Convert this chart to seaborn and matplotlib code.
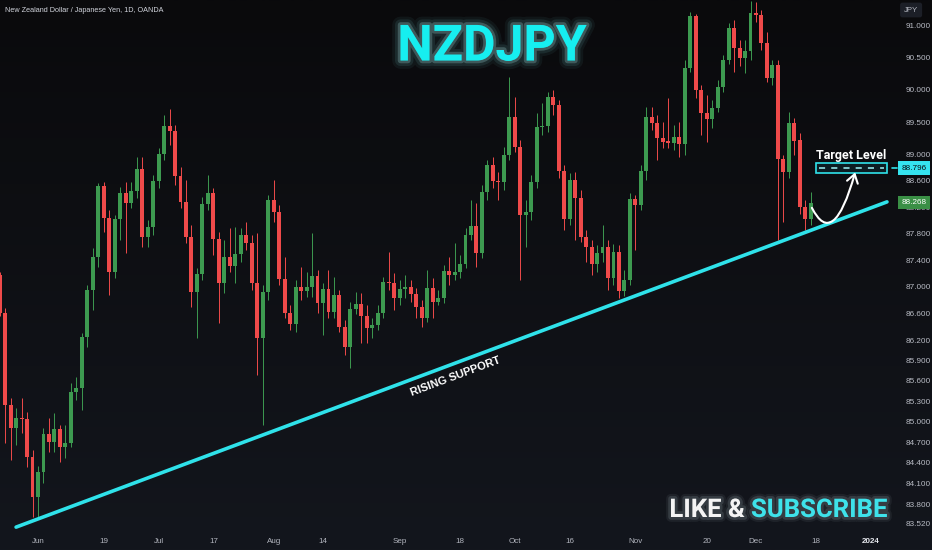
import numpy as np
import pandas as pd
import matplotlib
matplotlib.use("Agg")
import matplotlib.pyplot as plt
import matplotlib.ticker as mticker
import matplotlib.patheffects as pe
from matplotlib.patches import Rectangle, FancyArrowPatch
from matplotlib.path import Path
from matplotlib.colors import LinearSegmentedColormap
from matplotlib.transforms import blended_transform_factory
import seaborn as sns

# daily NZDJPY candles, first bar 2023-05-23, last bar 2023-12-15 (weekdays)
start_date = "2023-05-23"

opens = [
    87.17, 86.60, 85.24, 84.91, 85.05, 85.04, 84.48, 83.90, 84.26, 84.82,
    84.70, 84.89, 84.63, 84.69, 85.43, 85.49, 86.25, 86.95, 87.44, 88.52,
    88.03, 87.22, 88.02, 88.41, 88.26, 88.44, 88.78, 87.75, 87.90, 88.60,
    89.01, 89.44, 89.36, 88.67, 88.28, 87.75, 86.92, 87.19, 88.25, 88.41,
    87.72, 87.05, 87.44, 87.31, 87.49, 87.78, 87.66, 87.05, 86.23, 86.92,
    88.31, 88.12, 87.11, 86.60, 86.44, 86.99, 86.93, 86.99, 87.16, 86.75,
    86.96, 86.62, 86.87, 86.40, 86.10, 86.66, 86.74, 86.56, 86.38, 86.43,
    86.60, 87.07, 87.05, 86.83, 86.96, 86.99, 86.89, 86.69, 86.53, 86.98,
    86.77, 86.83, 87.23, 87.17, 87.22, 87.34, 87.78, 87.91, 87.50, 88.43,
    88.84, 88.60, 88.58, 88.99, 89.58, 89.12, 88.08, 88.12, 88.58, 89.43,
    89.44, 89.89, 89.76, 88.75, 88.02, 88.61, 88.34, 87.75, 87.60, 87.34,
    87.50, 87.60, 87.13, 87.52, 86.93, 87.10, 88.32, 88.23, 88.75, 89.58,
    89.49, 89.26, 89.21, 89.18, 89.27, 89.16, 90.34, 91.15, 90.00, 89.64,
    89.55, 89.72, 90.04, 90.46, 90.96, 90.65, 90.50, 90.60, 91.20, 91.17,
    90.73, 90.18, 90.39, 88.93, 88.73, 89.49, 89.22, 88.20, 88.02,
]
highs = [
    87.22, 86.68, 85.35, 85.20, 85.35, 85.14, 84.58, 84.35, 84.91, 85.05,
    85.12, 84.95, 84.95, 85.57, 85.65, 86.31, 87.02, 87.58, 88.57, 88.58,
    88.16, 88.08, 88.51, 88.58, 88.58, 88.96, 88.96, 88.00, 88.69, 89.10,
    89.61, 89.70, 89.46, 88.81, 88.61, 87.93, 87.28, 88.35, 88.69, 88.49,
    87.82, 87.70, 87.88, 87.90, 87.88, 87.97, 87.78, 87.81, 87.02, 88.38,
    88.61, 88.23, 87.44, 86.72, 87.10, 87.29, 87.22, 87.81, 87.25, 87.05,
    87.25, 87.14, 86.95, 86.50, 86.77, 86.92, 86.90, 86.72, 86.53, 86.72,
    87.14, 87.52, 87.20, 87.10, 87.17, 87.10, 86.98, 86.80, 87.25, 87.13,
    86.95, 87.32, 87.44, 87.66, 87.47, 87.88, 88.31, 88.26, 88.54, 88.92,
    88.96, 88.73, 89.12, 90.20, 89.89, 89.23, 88.31, 88.69, 89.64, 89.80,
    89.97, 90.00, 89.84, 88.84, 88.72, 88.73, 88.46, 87.85, 87.70, 87.63,
    87.93, 87.70, 87.64, 87.63, 87.25, 88.41, 88.38, 88.84, 89.73, 89.73,
    89.61, 89.50, 89.87, 89.46, 89.50, 90.46, 91.22, 91.18, 90.07, 89.92,
    89.84, 90.15, 90.54, 91.05, 91.09, 90.78, 90.78, 91.39, 91.37, 91.25,
    90.90, 90.46, 90.46, 88.99, 89.66, 89.56, 89.33, 88.31, 88.43,
]
lows = [
    86.56, 84.69, 84.44, 84.66, 84.83, 84.34, 83.61, 83.61, 84.10, 84.56,
    84.56, 84.41, 84.47, 84.63, 85.32, 85.17, 86.10, 86.65, 87.29, 87.82,
    86.87, 87.13, 87.70, 87.50, 88.19, 88.34, 87.60, 87.60, 87.78, 88.49,
    88.92, 89.15, 88.54, 88.19, 87.66, 86.69, 86.23, 87.10, 88.16, 87.47,
    86.46, 86.90, 87.22, 87.05, 87.37, 87.55, 86.95, 85.68, 84.95, 86.80,
    87.97, 87.02, 86.53, 86.35, 86.32, 86.80, 86.84, 86.84, 86.60, 86.28,
    86.53, 86.53, 86.32, 85.98, 85.79, 86.59, 86.16, 86.16, 86.23, 86.35,
    86.53, 86.95, 86.65, 86.72, 86.83, 86.77, 86.53, 86.40, 86.47, 86.53,
    86.72, 86.75, 87.02, 87.10, 87.13, 87.28, 87.70, 87.29, 87.43, 88.31,
    88.49, 88.31, 88.46, 88.92, 89.04, 87.10, 87.60, 88.00, 88.49, 89.30,
    89.35, 89.61, 88.64, 87.85, 87.93, 87.70, 87.67, 87.37, 87.17, 87.22,
    87.37, 86.95, 87.02, 86.83, 86.86, 87.02, 87.55, 88.16, 88.61, 89.38,
    88.92, 89.10, 89.10, 89.07, 88.96, 88.99, 90.28, 89.87, 89.30, 89.19,
    89.41, 89.66, 89.97, 90.40, 90.28, 90.37, 90.26, 90.46, 91.06, 90.62,
    90.12, 90.07, 87.70, 87.97, 88.64, 88.99, 88.09, 87.85, 87.93,
]
closes = [
    86.60, 85.24, 84.91, 85.05, 85.04, 84.48, 83.90, 84.26, 84.82, 84.70,
    84.89, 84.63, 84.69, 85.43, 85.49, 86.25, 86.95, 87.44, 88.52, 88.03,
    87.22, 88.02, 88.41, 88.26, 88.44, 88.78, 87.75, 87.90, 88.60, 89.01,
    89.44, 89.36, 88.67, 88.28, 87.75, 86.92, 87.19, 88.25, 88.41, 87.72,
    87.05, 87.44, 87.31, 87.49, 87.78, 87.66, 87.05, 86.23, 86.92, 88.31,
    88.12, 87.11, 86.60, 86.44, 86.99, 86.93, 86.99, 87.16, 86.75, 86.96,
    86.62, 86.87, 86.40, 86.10, 86.66, 86.74, 86.56, 86.38, 86.43, 86.60,
    87.07, 87.05, 86.83, 86.96, 86.99, 86.89, 86.69, 86.53, 86.98, 86.77,
    86.83, 87.23, 87.17, 87.22, 87.34, 87.78, 87.91, 87.50, 88.43, 88.84,
    88.60, 88.58, 88.99, 89.58, 89.12, 88.08, 88.12, 88.58, 89.43, 89.44,
    89.89, 89.76, 88.75, 88.02, 88.61, 88.34, 87.75, 87.60, 87.34, 87.50,
    87.60, 87.13, 87.52, 86.93, 87.10, 88.32, 88.23, 88.75, 89.58, 89.49,
    89.26, 89.19, 89.18, 89.27, 89.16, 90.34, 91.15, 90.00, 89.64, 89.55,
    89.72, 90.04, 90.46, 90.96, 90.65, 90.50, 90.60, 91.20, 91.17, 90.73,
    90.18, 90.39, 88.93, 88.73, 89.49, 89.21, 88.20, 88.02, 88.27,
]

tick_dates = [
    "2023-06-01", "2023-06-19", "2023-07-03", "2023-07-17", "2023-08-01",
    "2023-08-14", "2023-09-01", "2023-09-18", "2023-10-02", "2023-10-16",
    "2023-11-01", "2023-11-20", "2023-12-01", "2023-12-18", "2024-01-01",
]
tick_labels = ["Jun", "19", "Jul", "17", "Aug", "14", "Sep", "18", "Oct",
               "16", "Nov", "20", "Dec", "18", "2024"]
price_ticks = [91.0, 90.5, 90.0, 89.5, 89.0, 88.6, 88.2, 87.8, 87.4, 87.0,
               86.6, 86.2, 85.9, 85.6, 85.3, 85.0, 84.7, 84.4, 84.1, 83.8, 83.52]

# rising support line, in bar units
support_x = [3.0, 161.9]
support_y = [83.47, 88.28]
target_level = 88.796
last_price = 88.268

GREEN = "#3d9a50"
RED = "#ef4a4a"
CYAN = "#2fe2ea"

sns.set_theme(style="dark")
plt.rcParams["font.family"] = ["Liberation Sans", "DejaVu Sans"]
narrow = ["Liberation Sans Narrow", "Roboto", "DejaVu Sans"]

days = pd.bdate_range(start_date, "2024-02-01")
df = pd.DataFrame({"open": opens, "high": highs, "low": lows, "close": closes},
                  index=days[: len(opens)])
df["x"] = np.arange(len(df))
df["up"] = df["close"] >= df["open"]
tick_pos = [days.get_loc(pd.Timestamp(d)) for d in tick_dates]

fig = plt.figure(figsize=(9.32, 5.5), dpi=100)

# dark gradient background
bg = fig.add_axes([0, 0, 1, 1], zorder=-10)
grad = np.linspace(0, 1, 256).reshape(-1, 1)
bg.imshow(grad, aspect="auto", origin="lower", extent=[0, 1, 0, 1],
          cmap=LinearSegmentedColormap.from_list("bg", ["#13161d", "#0a0a0c"]))
bg.axis("off")

ax = fig.add_axes([0, 18 / 550, 893 / 932, 532 / 550])
ax.patch.set_alpha(0)
ax.set_yscale("log")

colors = np.where(df["up"], GREEN, RED)
ax.vlines(df["x"], df["low"], df["high"], colors=colors, lw=0.7, zorder=2)
body_low = df[["open", "close"]].min(axis=1)
body_h = (df["close"] - df["open"]).abs().clip(lower=0.012)
ax.bar(df["x"], body_h, bottom=body_low, width=0.72, color=colors,
       linewidth=0, zorder=3)

sns.lineplot(x=support_x, y=support_y, ax=ax, color=CYAN, lw=2.6, zorder=4)
ax.text(83.1, 85.67, "RISING SUPPORT", rotation=20.5, rotation_mode="anchor",
        ha="center", va="center", fontsize=8, fontweight="bold", color="white",
        zorder=5)

# target zone
ax.add_patch(Rectangle((149.0, 88.72), 12.9, 0.15, fc="#0c1c22", ec=CYAN,
                       lw=1.2, zorder=4))
ax.plot([149.5, 161.4], [target_level] * 2, color="#9ff4f7", lw=1.1,
        dashes=(4, 4), zorder=5)
ax.text(155.35, 88.99, "Target Level", ha="center", va="center", fontsize=9,
        fontweight="bold", color="white", family=narrow, zorder=5)

curve = Path([(148.2, 88.19), (152.1, 87.55), (156.1, 88.73)],
             [Path.MOVETO, Path.CURVE3, Path.CURVE3])
ax.add_patch(FancyArrowPatch(path=curve, arrowstyle="->,head_length=0.6,head_width=0.4",
                             mutation_scale=10, color="white", lw=1.5, zorder=6))

ax.set_xlim(0.066, 163.0)
ax.set_ylim(83.40, 91.404)
ax.set_xticks(tick_pos)
ax.set_xticklabels(tick_labels)
ax.yaxis.tick_right()
ax.yaxis.set_major_locator(mticker.FixedLocator(price_ticks))
ax.yaxis.set_minor_locator(mticker.NullLocator())
ax.yaxis.set_major_formatter(mticker.FuncFormatter(lambda v, _: f"{v:.3f}"))
ax.tick_params(axis="x", length=0, pad=4.5, labelsize=5.8, labelcolor="#b2b5be")
ax.tick_params(axis="y", length=0, pad=9, labelsize=5.9, labelcolor="#b8bbc4")
lab = ax.get_xticklabels()[-1]
lab.set_fontweight("bold")
lab.set_color("#e6e8ee")
for s in ax.spines.values():
    s.set_visible(False)
ax.grid(False)

# price labels on the scale
trans = blended_transform_factory(ax.transAxes, ax.transData)
ax.plot([0.999, 1.005], [target_level] * 2, transform=trans, color=CYAN,
        lw=1.2, clip_on=False)
ax.text(1.0095, target_level, f"{target_level:.3f}", transform=trans, ha="left",
        va="center", fontsize=5.9, color="#0b0d12", clip_on=False,
        bbox=dict(boxstyle="square,pad=0.4", fc="#35e3ef", ec="none"))
ax.text(1.0095, last_price, f"{last_price:.3f}", transform=trans, ha="left",
        va="center", fontsize=5.9, color="white", clip_on=False,
        bbox=dict(boxstyle="square,pad=0.4", fc="#3a8f45", ec="none"))
fig.text(904 / 932, 1 - 10 / 550, "JPY", ha="left", va="center", fontsize=5.6,
         color="#b2b5be",
         bbox=dict(boxstyle="round,pad=0.5,rounding_size=0.3", fc="#1c1f27", ec="none"))

fig.text(5 / 932, 1 - 10 / 550, "New Zealand Dollar / Japanese Yen, 1D, OANDA",
         ha="left", va="center", fontsize=5.2, color="#d1d4dc")

glow = [pe.Stroke(linewidth=12, foreground="#8ffcff", alpha=0.05),
        pe.Stroke(linewidth=8, foreground="#8ffcff", alpha=0.09),
        pe.Stroke(linewidth=4, foreground="#c0ffff", alpha=0.22),
        pe.Normal()]
fig.text(492 / 932, 1 - 47 / 550, "NZDJPY", ha="center", va="center",
         fontsize=36, fontweight="bold", color="#16eef0", family=narrow,
         path_effects=glow)

glow_small = [pe.Stroke(linewidth=7, foreground="#dffcff", alpha=0.06),
              pe.Stroke(linewidth=4, foreground="#dffcff", alpha=0.12),
              pe.Normal()]
fig.text(745 / 932, 1 - 510 / 550, "LIKE &", ha="right", va="center",
         fontsize=18.5, fontweight="bold", color="#f4f4f4", family=narrow,
         path_effects=glow_small)
fig.text(751 / 932, 1 - 510 / 550, "SUBSCRIBE", ha="left", va="center",
         fontsize=18.5, fontweight="bold", color="#3ee2ea", family=narrow,
         path_effects=glow_small)

fig.savefig("out.png", dpi=100, facecolor="#0b0c0f")
